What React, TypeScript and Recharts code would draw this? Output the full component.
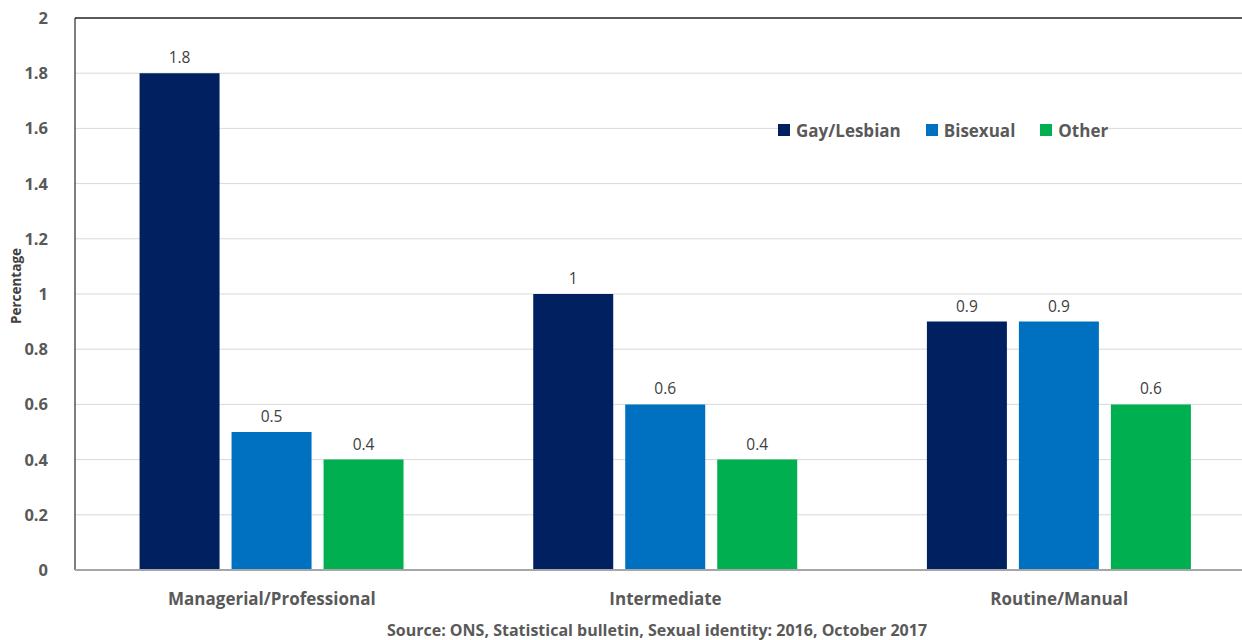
import React from "react";
import {
  BarChart,
  Bar,
  XAxis,
  YAxis,
  CartesianGrid,
  LabelList,
  ReferenceLine,
} from "recharts";

const categories = ["Managerial/Professional", "Intermediate", "Routine/Manual"];
const gayLesbian = [1.8, 1, 0.9];
const bisexual = [0.5, 0.6, 0.9];
const other = [0.4, 0.4, 0.6];
const yTicks = [0, 0.2, 0.4, 0.6, 0.8, 1, 1.2, 1.4, 1.6, 1.8, 2];

const seriesNames = ["Gay/Lesbian", "Bisexual", "Other"];
const seriesColors = ["#002060", "#0070C0", "#00B050"];

const data = categories.map((name, i) => ({
  name,
  gay: gayLesbian[i],
  bi: bisexual[i],
  other: other[i],
}));

const FONT = "'Open Sans', 'Liberation Sans', sans-serif";
const TEXT = "#595959";

const YTick = (props: any) => {
  const { x, y, payload } = props;
  return (
    <text x={x - 19} y={y} dy={6} textAnchor="end" fontFamily={FONT} fontWeight={700} fontSize={16.5} fill={TEXT}>
      {payload.value}
    </text>
  );
};

const XTick = (props: any) => {
  const { x, y, payload } = props;
  return (
    <text x={x} y={y} dy={27} textAnchor="middle" fontFamily={FONT} fontWeight={700} fontSize={17} fill={TEXT}>
      {payload.value}
    </text>
  );
};

const YTitle = () => (
  <text
    transform="translate(16,286) rotate(-90)"
    textAnchor="middle"
    dominantBaseline="central"
    fontFamily={FONT}
    fontWeight={700}
    fontSize={13.5}
    fill="#404040"
  >
    Percentage
  </text>
);

const Legend = () => (
  <div
    style={{
      position: "absolute",
      left: 778,
      top: 119,
      display: "flex",
      alignItems: "center",
      fontFamily: FONT,
      fontWeight: 700,
      fontSize: 17,
      color: TEXT,
      background: "#fff",
      height: 22,
    }}
  >
    {seriesNames.map((n, i) => (
      <div key={n} style={{ display: "flex", alignItems: "center", marginRight: i < 2 ? 25 : 0 }}>
        <span style={{ width: 12, height: 12, background: seriesColors[i], display: "inline-block", marginRight: 6 }} />
        <span>{n}</span>
      </div>
    ))}
  </div>
);

export default function App() {
  const labelStyle = { fontFamily: FONT, fontSize: 15.5, fill: "#404040" };
  return (
    <div style={{ position: "absolute", left: 0, top: 0, width: 1242, height: 640, overflow: "hidden", background: "#fff" }}>
      {/* plot area runs slightly past the right edge and is clipped by the wrapper */}
      <BarChart
        width={1256}
        height={640}
        data={data}
        margin={{ top: 18, right: 0, left: 0, bottom: 40 }}
        barCategoryGap="16.4%"
        barGap={12}
      >
        <CartesianGrid vertical={false} stroke="#d9d9d9" strokeWidth={1} />
        <YAxis
          width={75}
          domain={[0, 2]}
          ticks={yTicks}
          interval={0}
          tick={<YTick />}
          tickLine={false}
          axisLine={{ stroke: "#000", strokeWidth: 1 }}
          label={{ content: () => <YTitle /> }}
        />
        <XAxis
          dataKey="name"
          tick={<XTick />}
          tickLine={false}
          axisLine={{ stroke: "#a6a6a6", strokeWidth: 2 }}
          interval={0}
        />
        <ReferenceLine y={2} stroke="#595959" strokeWidth={2} />
        <Bar dataKey="gay" fill={seriesColors[0]} isAnimationActive={false}>
          <LabelList dataKey="gay" position="top" offset={10} style={labelStyle} />
        </Bar>
        <Bar dataKey="bi" fill={seriesColors[1]} isAnimationActive={false}>
          <LabelList dataKey="bi" position="top" offset={10} style={labelStyle} />
        </Bar>
        <Bar dataKey="other" fill={seriesColors[2]} isAnimationActive={false}>
          <LabelList dataKey="other" position="top" offset={10} style={labelStyle} />
        </Bar>
      </BarChart>
      <Legend />
      <div
        style={{
          position: "absolute",
          left: 0,
          width: 1314,
          top: 621,
          lineHeight: "18px",
          textAlign: "center",
          fontFamily: FONT,
          fontWeight: 700,
          fontSize: 16,
          color: TEXT,
          whiteSpace: "nowrap",
        }}
      >
        Source: ONS, Statistical bulletin, Sexual identity: 2016, October 2017
      </div>
    </div>
  );
}
